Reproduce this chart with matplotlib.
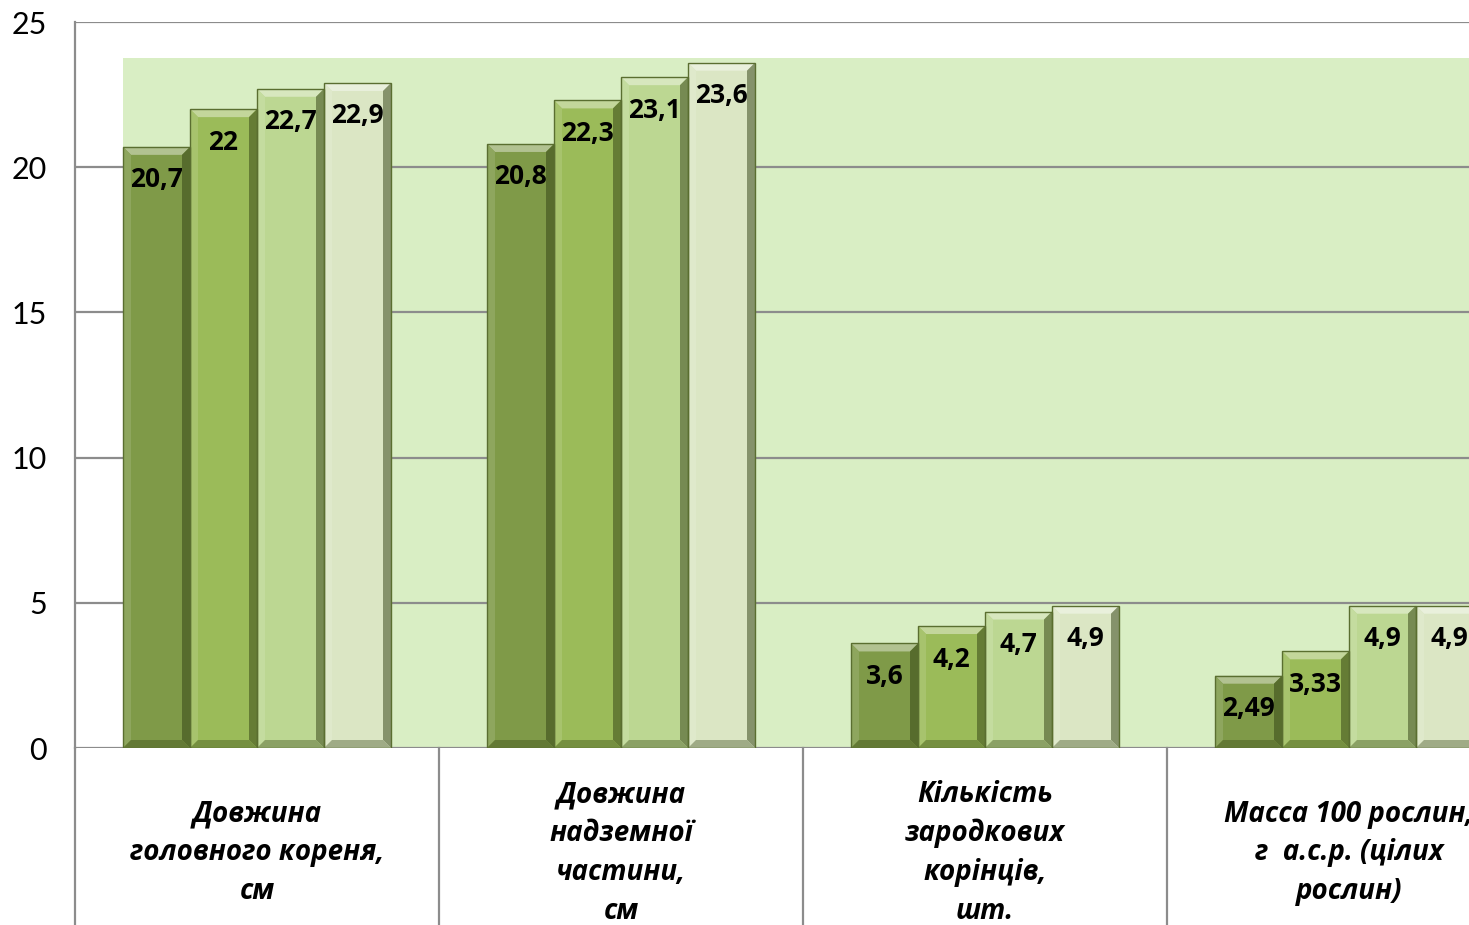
import numpy as np
import matplotlib
matplotlib.use("Agg")
import matplotlib.pyplot as plt
from matplotlib.patches import Rectangle, Polygon
from matplotlib.colors import to_rgb
import matplotlib.transforms as mtransforms

plt.rcParams['font.family'] = ['Lato', 'DejaVu Sans']

# chart data
categories = [
    "Довжина\nголовного кореня,\nсм",
    "Довжина\nнадземної\nчастини,\nсм",
    "Кількість\nзародкових\nкорінців,\nшт.",
    "Масса 100 рослин,\nг  а.с.р. (цілих\nрослин)",
]
series_1 = [20.7, 20.8, 3.6, 2.49]
series_2 = [22.0, 22.3, 4.2, 3.33]
series_3 = [22.7, 23.1, 4.7, 4.9]
series_4 = [22.9, 23.6, 4.9, 4.9]
value_labels = [
    ["20,7", "20,8", "3,6", "2,49"],
    ["22", "22,3", "4,2", "3,33"],
    ["22,7", "23,1", "4,7", "4,9"],
    ["22,9", "23,6", "4,9", "4,9"],
]
bar_colors = ["#7f9a48", "#9bbb59", "#bcd792", "#dbe6c4"]
yticks = [0, 5, 10, 15, 20, 25]

W, H = 1469, 925
fig = plt.figure(figsize=(W / 100, H / 100), dpi=100)
ax = fig.add_axes([75 / W, 177 / H, 4 * 364 / W, 726 / H])

ax.set_xlim(-0.5, 3.5)
ax.set_ylim(0, 25)

bar_w = 67 / 364
n = 4
offsets = (np.arange(n) - (n - 1) / 2) * bar_w
x = np.arange(len(categories))

# light green back wall behind the bars
wall_left = x[0] + offsets[0] - bar_w / 2
ax.add_patch(Rectangle((wall_left, 0), 4.0, 23.75, facecolor="#d9eec4",
                       edgecolor="none", zorder=0))

grid_c = "#8c8c8c"
for t in yticks[1:]:
    ax.axhline(t, color=grid_c, lw=1.6, zorder=1)


def mix(c, other, f):
    c = np.array(to_rgb(c))
    o = np.array(to_rgb(other))
    return tuple(c * (1 - f) + o * f)


dx = 8 / 364
dy = 8 / 29.04
all_series = [series_1, series_2, series_3, series_4]
for i, vals in enumerate(all_series):
    col = bar_colors[i]
    for j, v in enumerate(vals):
        x0 = x[j] + offsets[i] - bar_w / 2
        x1 = x0 + bar_w
        # face
        ax.add_patch(Rectangle((x0, 0), bar_w, v, facecolor=col,
                               edgecolor="none", zorder=3))
        # bevel edges
        top = [(x0, v), (x1, v), (x1 - dx, v - dy), (x0 + dx, v - dy)]
        bot = [(x0, 0), (x1, 0), (x1 - dx, dy), (x0 + dx, dy)]
        left = [(x0, 0), (x0, v), (x0 + dx, v - dy), (x0 + dx, dy)]
        right = [(x1, 0), (x1, v), (x1 - dx, v - dy), (x1 - dx, dy)]
        ax.add_patch(Polygon(top, closed=True, facecolor=mix(col, "white", 0.4),
                             edgecolor="none", zorder=4))
        ax.add_patch(Polygon(left, closed=True, facecolor=mix(col, "white", 0.12),
                             edgecolor="none", zorder=4))
        ax.add_patch(Polygon(right, closed=True, facecolor=mix(col, "#2f3d12", 0.5),
                             edgecolor="none", zorder=4))
        ax.add_patch(Polygon(bot, closed=True, facecolor=mix(col, "#2f3d12", 0.35),
                             edgecolor="none", zorder=4))
        ax.add_patch(Rectangle((x0, 0), bar_w, v, facecolor="none",
                               edgecolor="#5a6e30", lw=1.0, zorder=5))
        ax.annotate(value_labels[i][j], (x[j] + offsets[i], v),
                    xytext=(0, -33), textcoords="offset pixels",
                    ha="center", va="center", fontsize=19, fontweight="bold",
                    family=["Open Sans", "DejaVu Sans"],
                    color="black", zorder=6)

# axis lines and category separators below the axis
ax.axhline(0, color=grid_c, lw=1.6, zorder=2)
trans = mtransforms.blended_transform_factory(ax.transData, ax.transAxes)
for sep in np.arange(len(categories)) - 0.5:
    ax.plot([sep, sep], [0, -0.26], color=grid_c, lw=1.6,
            transform=trans, clip_on=False, zorder=2)
ax.plot([-0.5, -0.5], [0, 1], color=grid_c, lw=1.6, transform=trans,
        clip_on=False, zorder=2)

for j, lab in enumerate(categories):
    ax.text(x[j], -0.1446, lab, transform=trans, ha="center", va="center",
            fontsize=20, fontweight="bold", fontstyle="italic",
            family=["Open Sans", "DejaVu Sans"],
            linespacing=1.45, clip_on=False)

for s in ax.spines.values():
    s.set_visible(False)
ax.set_xticks([])
ax.set_yticks(yticks)
ax.tick_params(axis="y", length=0, pad=20, labelsize=22)

fig.savefig("out.png", dpi=100)
